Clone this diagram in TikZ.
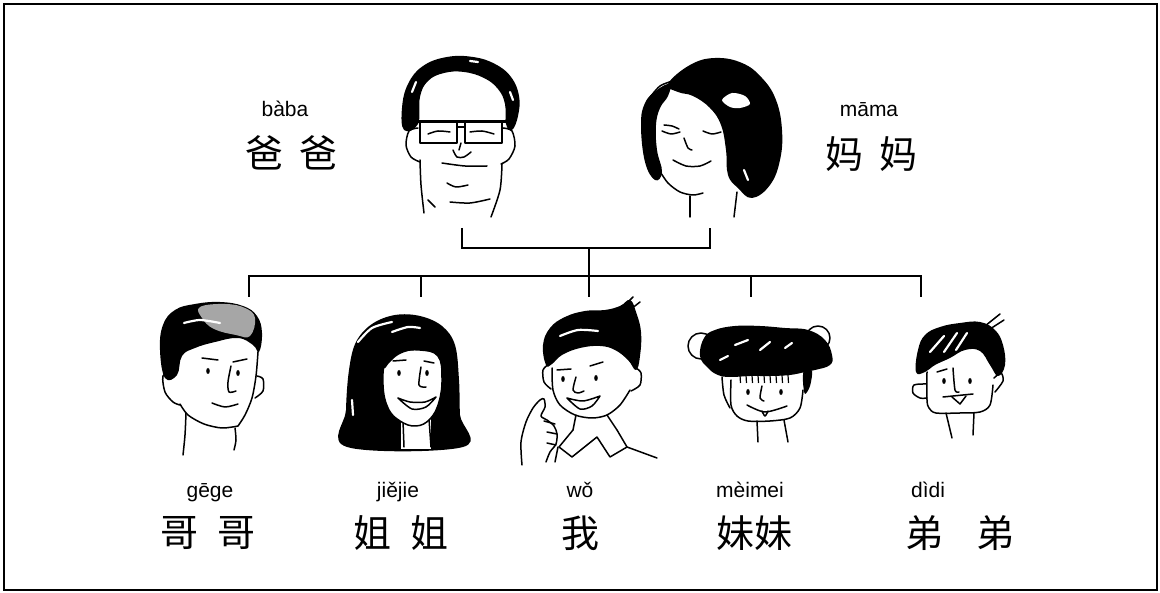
\documentclass[tikz,border=0pt]{standalone}
\usepackage{fontspec}
\setmainfont{Liberation Sans}
\newfontfamily\cjk{Noto Sans CJK SC}
\begin{document}
\begin{tikzpicture}[x=1pt,y=-1pt,
  py/.style={font=\fontsize{21}{23}\selectfont, inner sep=0pt, anchor=base},
  hz/.style={font=\cjk\fontsize{38}{40}\selectfont, inner sep=0pt},
  conn/.style={line width=2pt},
  ln/.style={line width=1.5pt, line cap=round, line join=round},
  hair/.style={fill=black},
  hl/.style={white, line width=2.2pt, line cap=round},
  eye/.style={fill=black}]
\useasboundingbox (0,0) rectangle (1160,593);
\fill[white] (0,0) rectangle (1160,593);
\draw[line width=2.6pt] (4,4) rectangle (1157,590);

% ---------- labels ----------
\node[py] (pyba) at (285,117) {bàba};
\node[hz] (hzba) at (291,153) {爸\hspace{16pt}爸};
\node[py] (pyma) at (869,117) {māma};
\node[hz] (hzma) at (871,154) {妈\hspace{16pt}妈};
\node[py] (pyge) at (210,497) {gēge};
\node[hz] (hzge) at (208,533) {哥\hspace{20pt}哥};
\node[py] (pyjie) at (398,497) {jiějie};
\node[hz] (hzjie) at (401,533) {姐\hspace{20pt}姐};
\node[py] (pywo) at (580,497) {wǒ};
\node[hz] (hzwo) at (580,533) {我};
\node[py] (pymei) at (750,497) {mèimei};
\node[hz] (hzmei) at (754,533) {妹妹};
\node[py] (pydi) at (928,497) {dìdi};
\node[hz] (hzdi) at (960,533) {弟\hspace{34pt}弟};

% ---------- family tree connectors ----------
\coordinate (dad) at (462,228);
\coordinate (mom) at (710,228);
\coordinate (pj) at (589,248);
\coordinate (cj) at (589,276);
\coordinate (c1) at (249,297);
\coordinate (c2) at (421,297);
\coordinate (c3) at (589,297);
\coordinate (c4) at (751,297);
\coordinate (c5) at (921,297);
\draw[conn] (dad) -- (dad |- pj) -- (mom |- pj) -- (mom);
\draw[conn] (pj) -- (cj);
\draw[conn] (c1) -- (c1 |- cj) -- (c5 |- cj) -- (c5);
\draw[conn] (c2) -- (c2 |- cj);
\draw[conn] (c3) -- (c3 |- cj);
\draw[conn] (c4) -- (c4 |- cj);

% ---------- father ----------
\fill[hair] plot[smooth cycle, tension=0.7] coordinates {(404,130) (402,108) (408,84) (423,66) (447,57) (473,57) (495,64) (511,77) (519,96) (518,116) (512,130) (506,124) (505,104) (498,89) (484,78) (464,72) (444,73) (428,81) (420,97) (418,124)};
\draw[hl] (412,92) -- (416,82);
\draw[hl] (470,61) -- (478,62);
\draw[hl] (510,92) -- (513,100);
\draw[ln] (420,122) rectangle (457,143);
\draw[ln] (465,122) rectangle (502,143);
\draw[line width=3pt] (416,122) -- (506,122);
\draw[ln] (457,127) -- (465,127);
\draw[ln] plot[smooth] coordinates {(428,134) (438,131) (450,132)};
\draw[ln] plot[smooth] coordinates {(470,132) (482,131) (494,134)};
\draw[ln] plot[smooth] coordinates {(418,128) (409,131) (406,145) (411,157) (420,162)};
\draw[ln] plot[smooth] coordinates {(503,128) (512,131) (515,146) (509,159) (501,164)};
\draw[ln] plot[smooth] coordinates {(420,160) (421,185) (424,213)};
\draw[ln] plot[smooth] coordinates {(502,164) (500,190) (491,217)};
\draw[ln] (428,200) -- (435,207);
\draw[ln] (461,143) -- (459,150);
\draw[ln] plot[smooth] coordinates {(453,150) (457,157) (464,157) (471,152)};
\draw[ln] plot[smooth] coordinates {(442,163) (465,166) (487,166)};
\draw[ln] plot[smooth] coordinates {(447,183) (456,187) (468,185)};
\draw[ln] plot[smooth] coordinates {(450,202) (470,203) (490,199)};

% ---------- mother ----------
\fill[hair] plot[smooth cycle, tension=0.7] coordinates {(668,84) (690,65) (715,58) (742,63) (762,78) (776,100) (782,130) (780,160) (770,185) (752,198) (738,188) (728,175) (726,150) (721,125) (710,108) (693,96) (678,92)};
\fill[white] plot[smooth cycle] coordinates {(722,100) (732,93) (745,96) (750,104) (740,108) (730,107)};
\draw[hl] (744,170) -- (748,180);
\fill[hair] plot[smooth cycle, tension=0.7] coordinates {(641,125) (645,103) (657,90) (670,84) (668,96) (660,108) (656,125) (657,150) (662,172) (655,180) (645,162)};
\draw[ln] plot[smooth] coordinates {(648,100) (660,86) (676,80)};
\draw[ln] plot[smooth] coordinates {(659,170) (668,183) (680,192) (693,195) (703,193)};
\draw[ln] plot[smooth] coordinates {(664,125) (672,126) (679,129)};
\draw[ln] plot[smooth] coordinates {(662,131) (671,134) (680,132)};
\draw[ln] plot[smooth] coordinates {(703,131) (712,134) (721,132)};
\draw[ln] plot[smooth] coordinates {(684,138) (688,148) (692,150)};
\draw[ln] plot[smooth] coordinates {(673,160) (686,166) (700,166) (711,161)};
\draw[ln] (690,196) -- (690,217);
\draw[ln] (737,192) -- (734,217);

% ---------- elder brother ----------
\fill[hair] plot[smooth cycle, tension=0.7] coordinates {(165,378) (160,350) (163,325) (175,310) (195,304) (220,302) (243,306) (257,316) (262,333) (259,352) (253,345) (238,338) (215,342) (195,348) (182,356) (177,375)};
\fill[gray!70] plot[smooth cycle, tension=0.7] coordinates {(200,307) (225,304) (245,308) (255,318) (250,336) (236,335) (214,329) (202,318)};
\draw[hl] plot[smooth] coordinates {(184,323) (200,320) (220,323)};
\draw[ln] plot[smooth] coordinates {(172,370) (163,376) (165,392) (173,402) (180,405)};
\draw[ln] plot[smooth] coordinates {(180,404) (188,415) (204,424) (222,428) (238,426)};
\draw[ln] plot[smooth] coordinates {(258,352) (256,376) (252,398) (245,415) (238,426)};
\draw[ln] plot[smooth] coordinates {(257,376) (263,379) (263,391) (255,398)};
\draw[ln] (202,358) -- (218,360);
\draw[ln] (233,362) -- (247,359);
\fill[eye] (208,371) ellipse [x radius=1.8pt, y radius=3pt];
\fill[eye] (238,373) ellipse [x radius=1.8pt, y radius=3pt];
\draw[ln] plot[smooth] coordinates {(231,366) (228,382) (229,392) (236,391)};
\draw[ln] plot[smooth] coordinates {(212,403) (225,407) (238,404)};
\draw[ln] plot[smooth] coordinates {(186,413) (185,435) (183,455)};
\draw[ln] plot[smooth] coordinates {(235,428) (236,440) (234,450)};

% ---------- elder sister ----------
\fill[hair] plot[smooth cycle, tension=0.6] coordinates {(347,447) (346,410) (349,370) (356,342) (372,324) (395,315) (420,316) (442,326) (455,345) (459,380) (460,415) (463,447)};
\fill[white] (401,418) rectangle (431,449);
\draw[ln] (403,421) -- (404,447);
\draw[ln] (429,419) -- (431,447);
\draw[ln, fill=white] plot[smooth cycle, tension=0.7] coordinates {(386,360) (383,385) (388,408) (400,421) (416,426) (430,419) (439,402) (442,378) (438,356) (420,350) (400,352)};
\fill[hair] plot[smooth cycle, tension=0.7] coordinates {(384,368) (386,350) (398,340) (418,338) (436,343) (443,360) (432,352) (415,350) (400,354) (390,362)};
\draw[hl] plot[smooth] coordinates {(358,342) (372,328) (392,322)};
\draw[hl] plot[smooth] coordinates {(392,332) (408,327) (420,328)};
\draw[hl] (352,400) -- (353,415);
\draw[ln] (393,361) -- (406,360);
\draw[ln] (424,361) -- (434,363);
\fill[eye] (399,373) ellipse [x radius=1.8pt, y radius=3pt];
\fill[eye] (427,373) ellipse [x radius=1.8pt, y radius=3pt];
\draw[ln] plot[smooth] coordinates {(421,367) (419,385) (426,387)};
\draw[ln, fill=white] plot[smooth] coordinates {(398,398) (410,402) (425,402) (436,397)} -- plot[smooth] coordinates {(436,397) (426,407) (412,409) (398,398)};

% ---------- me ----------
\fill[hair] plot[smooth cycle, tension=0.7] coordinates {(546,365) (543,345) (550,328) (565,317) (585,311) (605,310) (620,306) (630,300) (636,312) (641,332) (640,356) (636,370) (628,360) (615,350) (600,346) (580,348) (562,355) (552,364)};
\draw[ln] (620,310) -- (633,297);
\draw[ln] (626,313) -- (640,302);
\draw[hl] plot[smooth] coordinates {(560,336) (578,330) (598,331)};
\draw[ln] plot[smooth] coordinates {(549,364) (543,370) (544,382) (551,389)};
\draw[ln] plot[smooth] coordinates {(552,368) (553,390) (560,405) (575,415) (592,418) (607,415) (620,405) (630,390)};
\draw[ln] plot[smooth] coordinates {(636,368) (641,373) (640,385) (631,391)};
\draw[ln] (557,370) -- (571,369);
\draw[ln] (590,366) -- (603,362);
\fill[eye] (563,379) ellipse [x radius=1.8pt, y radius=3pt];
\fill[eye] (596,378) ellipse [x radius=1.8pt, y radius=3pt];
\draw[ln] plot[smooth] coordinates {(576,377) (573,390) (578,393) (584,391)};
\draw[ln, fill=white] plot[smooth] coordinates {(567,398) (583,401) (600,396)} -- plot[smooth] coordinates {(600,396) (592,406) (580,409) (567,398)};
\draw[ln, fill=white] plot[smooth] coordinates {(522,465) (521,442) (526,422) (533,408) (540,400) (544,399) (545,407) (541,416) (547,420) (554,426) (557,434) (556,444) (550,452) (546,462)};
\draw[ln] (544,421) -- (555,424);
\draw[ln] (547,432) -- (557,434);
\draw[ln] (547,443) -- (556,445);
\draw[ln] (576,415) -- (573,430);
\draw[ln] (607,415) -- (617,430);
\draw[ln] plot coordinates {(573,430) (559,447) (572,457) (597,437) (610,457) (627,447) (617,430)};
\draw[ln] (558,447) -- (555,462);
\draw[ln] (627,447) -- (657,458);

% ---------- younger sister ----------
\draw[ln] (701,346) circle [radius=13pt];
\draw[ln] (818,338) circle [radius=12pt];
\fill[hair] plot[smooth cycle, tension=0.7] coordinates {(700,356) (704,338) (715,330) (735,326) (760,326) (785,328) (808,330) (825,340) (832,355) (830,365) (815,370) (805,372) (790,375) (770,376) (750,376) (730,377) (718,375) (708,368)};
\fill[hair] plot[smooth cycle] coordinates {(804,370) (812,371) (810,386) (805,394) (803,382)};
\draw[hl] (735,345) -- (748,340);
\draw[hl] (760,350) -- (770,342);
\draw[hl] (785,348) -- (792,343);
\draw[hl] (720,360) -- (728,356);
\foreach \bx in {740,746,752,758,764,770,776,782,788}
  \draw[line width=1.2pt] (\bx,375) -- (\bx+0.5,383);
\draw[ln] plot[smooth] coordinates {(722,377) (724,395) (730,408)};
\draw[ln] plot[smooth] coordinates {(731,380) (731,405) (737,416) (748,421) (770,421) (790,418) (800,408) (803,390)};
\fill[eye] (748,392) ellipse [x radius=1.8pt, y radius=3pt];
\fill[eye] (781,392) ellipse [x radius=1.8pt, y radius=3pt];
\draw[ln] plot[smooth] coordinates {(762,386) (760,398) (764,401)};
\draw[ln] plot[smooth] coordinates {(747,405) (765,412) (787,406)};
\draw[ln] plot[smooth] coordinates {(762,411) (765,416) (768,411)};
\draw[ln] (757,421) -- (758,442);
\draw[ln] (784,420) -- (788,442);

% ---------- younger brother ----------
\fill[hair] plot[smooth cycle, tension=0.7] coordinates {(916,372) (918,350) (925,335) (940,327) (960,323) (980,322) (995,330) (1003,345) (1005,365) (998,376) (990,365) (980,351) (965,350) (950,358) (935,365) (925,372)};
\draw[ln] (985,326) -- (1000,314);
\draw[ln] (990,329) -- (1004,320);
\draw[hl] (930,352) -- (944,336);
\draw[hl] (944,352) -- (957,333);
\draw[hl] (956,350) -- (967,333);
\draw[ln] plot[smooth] coordinates {(926,384) (914,385) (913,393) (920,398) (927,398)};
\draw[ln] plot[smooth] coordinates {(927,372) (927,400) (929,408) (936,413) (960,413) (980,412) (990,405) (993,385)};
\draw[ln] plot[smooth] coordinates {(994,378) (1001,373) (1003,381) (995,392)};
\draw[ln] (937,372) -- (947,369);
\fill[eye] (944,381) ellipse [x radius=1.8pt, y radius=3pt];
\fill[eye] (970,381) ellipse [x radius=1.8pt, y radius=3pt];
\draw[ln] plot[smooth] coordinates {(953,368) (955,390) (959,392)};
\draw[ln] (943,397) -- (973,394);
\draw[ln] (952,397) -- (960,404) -- (966,396);
\draw[ln] (946,413) -- (952,438);
\draw[ln] (974,413) -- (973,435);
\end{tikzpicture}
\end{document}
